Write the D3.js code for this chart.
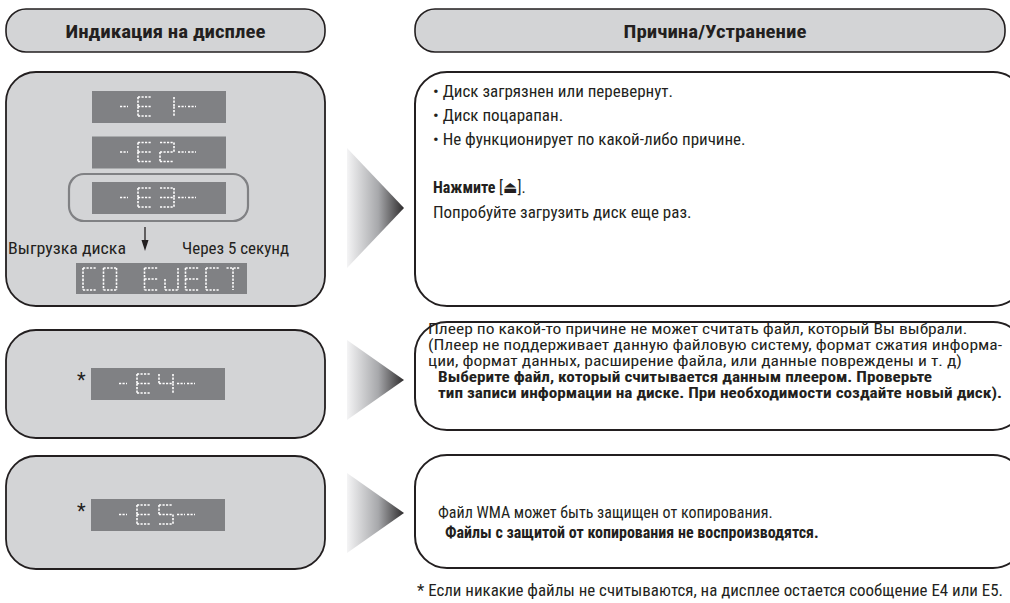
<!DOCTYPE html>
<html><head><meta charset="utf-8">
<script src="https://cdn.jsdelivr.net/npm/d3@7"></script>
<style>
body{margin:0;background:#fff}
svg{display:block}
text{font-family:"Roboto Condensed","Liberation Sans Narrow","DejaVu Sans Condensed",sans-serif;fill:#231f20}
</style>
</head><body>
<svg id="c" width="1010" height="603"></svg>
<script>
// ---------- data ----------
const headers = ["Индикация на дисплее", "Причина/Устранение"];
const row1Codes = ["-E1-", "-E2-", "-E3-"];
const row2Codes = ["-E4-"];
const row3Codes = ["-E5-"];
const ejectCode = "CD EJECT";
const ejectLabels = ["Выгрузка диска", "Через 5 секунд"];
const row1Lines = [
  "• Диск загрязнен или перевернут.",
  "• Диск поцарапан.",
  "• Не функционирует по какой-либо причине.",
  "",
  "Нажмите ",
  "Попробуйте загрузить диск еще раз."
];
const ejectKey = ["[", "\u23CF", "]."];
const row2Lines = [
  "Плеер по какой-то причине не может считать файл, который Вы выбрали.",
  "(Плеер не поддерживает данную файловую систему, формат сжатия информа-",
  "ции, формат данных, расширение файла, или данные повреждены и т. д)",
  "Выберите файл, который считывается данным плеером. Проверьте",
  "тип записи информации на диске. При необходимости создайте новый диск)."
];
const row3Lines = [
  "Файл WMA может быть защищен от копирования.",
  "Файлы с защитой от копирования не воспроизводятся."
];
const footnote = "* Если никакие файлы не считываются, на дисплее остается сообщение E4 или E5.";

// ---------- layout ----------
const svg = d3.select("#c");
const INK = "#231f20", PANEL = "#d3d4d6", LCD = "#808184";

const defs = svg.append("defs");
const grad = defs.append("linearGradient").attr("id", "tri").attr("x1", 0).attr("x2", 1).attr("y1", 0).attr("y2", 0);
grad.append("stop").attr("offset", "0%").attr("stop-color", "#f4f4f5");
grad.append("stop").attr("offset", "55%").attr("stop-color", "#a7a8ab");
grad.append("stop").attr("offset", "100%").attr("stop-color", "#2e2c2d");

function fit(el, target) {
  const n = el.node().getComputedTextLength();
  if (n > target) el.attr("font-size", parseFloat(el.attr("font-size")) * target / n);
  el.attr("textLength", target).attr("lengthAdjust", "spacingAndGlyphs");
}
function fitGroup(els, refIdx, target) {
  const nat = els.map(e => e.node().getComputedTextLength());
  const k = target / nat[refIdx];
  if (k < 1) els.forEach(e => e.attr("font-size", parseFloat(e.attr("font-size")) * k));
  els.forEach((e, i) => e.attr("textLength", nat[i] * k).attr("lengthAdjust", "spacingAndGlyphs"));
}

// headers
const hdr = [{x: 6, w: 319}, {x: 415, w: 590}];
const hdrText = hdr.map((h, i) => {
  svg.append("rect").attr("x", h.x).attr("y", 9).attr("width", h.w).attr("height", 43)
    .attr("rx", 20).attr("fill", PANEL).attr("stroke", INK).attr("stroke-width", 1.6);
  return svg.append("text").attr("x", h.x + h.w / 2 + (i ? 5 : 0)).attr("y", 37.5)
    .attr("text-anchor", "middle").attr("font-size", 19).attr("font-weight", "bold")
    .text(headers[i]);
});
fitGroup(hdrText, 0, 200);

// rows
const leftRows = [[72, 306], [330, 438], [456, 569]];
const rightRows = [[72, 306], [322, 430], [455, 568]];
leftRows.forEach(r => {
  svg.append("rect").attr("x", 6).attr("y", r[0]).attr("width", 319).attr("height", r[1] - r[0])
    .attr("rx", 30).attr("fill", PANEL).attr("stroke", INK).attr("stroke-width", 1.8);
});
rightRows.forEach(r => {
  svg.append("rect").attr("x", 415).attr("y", r[0]).attr("width", 610).attr("height", r[1] - r[0])
    .attr("rx", 32).attr("fill", "#fff").attr("stroke", INK).attr("stroke-width", 2);
});

// triangles
const tris = [[148, 268], [340, 420], [473, 553]];
tris.forEach(t => {
  const mid = (t[0] + t[1]) / 2;
  svg.append("path").attr("d", d3.line()([[347, t[0]], [404, mid], [347, t[1]]]) + "Z")
    .attr("fill", "url(#tri)");
});

// seven segment displays
const SEG = {
  "E": "adefg", "1": "bc", "2": "abged", "3": "abgcd", "4": "fgbc", "5": "afgcd",
  "C": "adef", "D": "abcdef", "J": "bcde", "T": "aT", " ": "", "-": "-"
};
function segLines(ch, x, y, w, h) {
  const m = y + h / 2, out = [];
  const s = SEG[ch] || "";
  for (const k of s) {
    if (k === "a") out.push([[x, y], [x + w, y]]);
    if (k === "b") out.push([[x + w, y], [x + w, m]]);
    if (k === "c") out.push([[x + w, m], [x + w, y + h]]);
    if (k === "d") out.push([[x, y + h], [x + w, y + h]]);
    if (k === "e") out.push([[x, m], [x, y + h]]);
    if (k === "f") out.push([[x, y], [x, m]]);
    if (k === "g") out.push([[x, m], [x + w, m]]);
    if (k === "T") out.push([[x + w / 2, y], [x + w / 2, y + h]]);
    if (k === "-") out.push([[x, m], [x + 8, m]]);
  }
  return out;
}
function drawDisplay(code, x, y, w, h, opts) {
  const g = svg.append("g");
  g.append("rect").attr("x", x).attr("y", y).attr("width", w).attr("height", h).attr("fill", LCD);
  const lines = [];
  if (opts.cells) {
    const cx = d3.scaleLinear().domain([0, 1]).range([x + opts.start, x + opts.start + opts.adv]);
    code.split("").forEach((ch, i) => lines.push(...segLines(ch, cx(i), y + opts.top, opts.cw, opts.ch)));
  } else {
    const chars = code.replace(/-/g, "").split("");
    lines.push(...segLines("-", x + 28, y + 6, 0, 19));
    chars.forEach((ch, i) => lines.push(...segLines(ch, x + 46 + i * 22, y + 6, 14, 19)));
    lines.push(...segLines("-", x + 86, y + 6, 0, 19));
    lines.push(...segLines("-", x + 96, y + 6, 0, 19));
  }
  g.selectAll("path.seg").data(lines).join("path").attr("class", "seg")
    .attr("d", d => d3.line()(d)).attr("stroke", "#fff").attr("stroke-width", 1.6)
    .attr("stroke-dasharray", "2.2,1.3").attr("fill", "none");
}

const codeY = d3.scalePoint().domain(row1Codes).range([91, 182]);
row1Codes.forEach(c => drawDisplay(c, 92, codeY(c), 134, 32, {}));
svg.append("rect").attr("x", 69).attr("y", 174).attr("width", 179).attr("height", 47)
  .attr("rx", 15).attr("fill", "none").attr("stroke", LCD).attr("stroke-width", 2.2);
drawDisplay(row2Codes[0], 91, 368, 134, 32, {});
drawDisplay(row3Codes[0], 91, 499, 134, 32, {});
drawDisplay(ejectCode, 76, 263, 171, 31, {cells: true, start: 7, adv: 20.5, top: 5, cw: 13, ch: 22});

// asterisks
[[77, 387], [77, 518]].forEach(p => svg.append("text").attr("x", p[0]).attr("y", p[1])
  .attr("font-size", 20).attr("font-family", "DejaVu Sans").text("*"));

// arrow down
svg.append("line").attr("x1", 145).attr("x2", 145).attr("y1", 227).attr("y2", 244)
  .attr("stroke", INK).attr("stroke-width", 1.3);
svg.append("path").attr("d", d3.line()([[141.5, 240], [148.5, 240], [145, 251]]) + "Z").attr("fill", INK);
fit(svg.append("text").attr("x", 8).attr("y", 254).attr("font-size", 16).text(ejectLabels[0]), 118);
fit(svg.append("text").attr("x", 182).attr("y", 254).attr("font-size", 16).text(ejectLabels[1]), 107);

// right texts
function lineBlock(lines, x, y0, step, bold, boldX, fs) {
  return lines.map((t, i) => {
    if (!t) return null;
    const b = bold.includes(i);
    return svg.append("text").attr("x", b && boldX ? boldX : x).attr("y", y0 + i * step)
      .attr("font-size", fs).attr("font-weight", b ? "bold" : "normal").text(t);
  });
}
const r1 = lineBlock(row1Lines, 433, 96.5, 24.2, [4], null, 16);
r1[4].append("tspan").attr("font-weight", "normal").text(ejectKey[0]);
r1[4].append("tspan").attr("font-weight", "normal").attr("font-size", 17).text(ejectKey[1]);
r1[4].append("tspan").attr("font-weight", "normal").text(ejectKey[2]);
fitGroup([r1[0], r1[1], r1[2], r1[5]], 0, 240);

const r2 = lineBlock(row2Lines, 428, 334, 16, [3, 4], 438, 14.5);
fitGroup([r2[0], r2[1], r2[2]], 1, 574);
fitGroup([r2[3], r2[4]], 1, 564);
lineBlock(row3Lines, 438, 517.5, 20, [1], 445, 16);
fit(svg.append("text").attr("x", 417).attr("y", 595.5).attr("font-size", 16).text(footnote), 586);
</script>
</body></html>
